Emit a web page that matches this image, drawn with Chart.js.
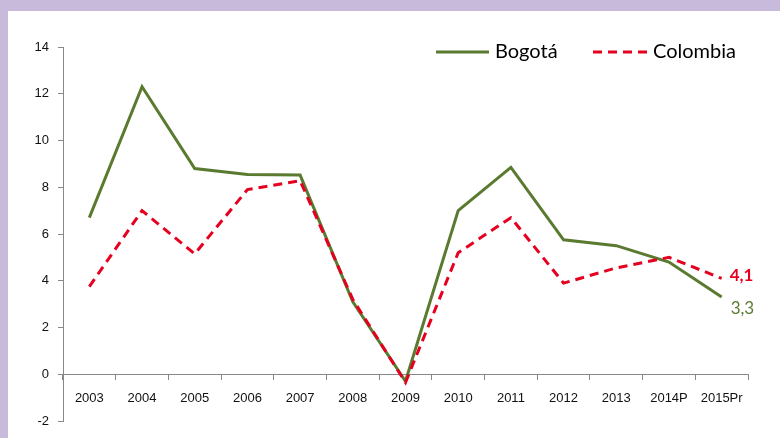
<!doctype html>
<html>
  <head>
    <title>Bogotá vs Colombia</title>
    <script src="https://cdn.jsdelivr.net/npm/chart.js@4.4.1/dist/chart.umd.min.js"></script>
    <style>
        * { margin: 0; padding: 0; box-sizing: border-box; }
        body { background: #c8badb; width: 780px; height: 438px; overflow: hidden; }
        #box { position: absolute; left: 8px; top: 11px; width: 772px; height: 427px; background: #fff; }
        canvas { display: block; }
    </style>
  </head>
  <body>
    <div id="box"><canvas id="myCanvas" width="772" height="427"></canvas></div>
    <script>
    // data
    const years = ["2003","2004","2005","2006","2007","2008","2009","2010","2011","2012","2013","2014P","2015Pr"];
    const bogota = [6.7, 12.3, 8.8, 8.55, 8.52, 3.1, -0.3, 7.0, 8.85, 5.75, 5.5, 4.8, 3.3];
    const colombia = [3.75, 7.0, 5.15, 7.9, 8.28, 3.2, -0.35, 5.2, 6.7, 3.9, 4.55, 5.0, 4.1];
    const yTicks = { min: -2, max: 14, step: 2 };

    const green = '#5a7a2f';
    const red = '#e6001f';

    // legend + end labels
    const extras = {
      id: 'extras',
      afterDraw(chart) {
        const ctx = chart.ctx;
        const x = chart.scales.x, y = chart.scales.y;
        ctx.save();
        ctx.lineWidth = 3;
        ctx.font = '20px Lato';
        ctx.textBaseline = 'middle';
        ctx.fillStyle = '#000';
        // Bogotá
        ctx.strokeStyle = green;
        ctx.setLineDash([]);
        ctx.beginPath(); ctx.moveTo(428, 41); ctx.lineTo(481, 41); ctx.stroke();
        ctx.fillText('Bogotá', 487, 41);
        // Colombia
        ctx.strokeStyle = red;
        ctx.setLineDash([9, 6]);
        ctx.beginPath(); ctx.moveTo(585, 41); ctx.lineTo(640, 41); ctx.stroke();
        ctx.fillText('Colombia', 645, 41);
        // last value labels
        const last = years.length - 1;
        const px = x.getPixelForValue(last);
        ctx.font = 'bold 17px Lato';
        ctx.fillStyle = red;
        ctx.fillText(String(colombia[last]).replace('.', ','), px + 8, y.getPixelForValue(colombia[last]) - 3);
        ctx.font = '17px Lato';
        ctx.fillStyle = green;
        ctx.fillText(String(bogota[last]).replace('.', ','), px + 9, y.getPixelForValue(bogota[last]) + 11);
        ctx.restore();
      }
    };

    var ctx1 = document.getElementById("myCanvas").getContext('2d');
    var myChart = new Chart(ctx1, {
        type: 'line',
        data: {
            labels: years,
            datasets: [{
              label: 'Bogotá',
              data: bogota,
              borderColor: green,
              borderWidth: 3,
              pointRadius: 0,
              tension: 0,
              order: 2
            }, {
              label: 'Colombia',
              data: colombia,
              borderColor: red,
              borderWidth: 3,
              borderDash: [9, 6],
              pointRadius: 0,
              tension: 0,
              order: 1
            }]
        },
        options: {
          responsive: false,
          animation: false,
          layout: { padding: { left: 15, top: 36, right: 32, bottom: 17 } },
          plugins: { legend: { display: false }, tooltip: { enabled: false } },
          scales: {
            x: {
              position: { y: 0 },
              offset: true,
              grid: { offset: true, drawOnChartArea: false, tickLength: 5, color: '#888' },
              border: { color: '#888' },
              ticks: { color: '#111', padding: 11, maxRotation: 0, autoSkip: false,
                       font: { family: 'Liberation Sans', size: 13 } }
            },
            y: {
              min: yTicks.min, max: yTicks.max,
              afterFit(s) { s.width = 40; },
              grid: { drawOnChartArea: false, tickLength: 5, color: '#888' },
              border: { color: '#888' },
              ticks: { stepSize: yTicks.step, color: '#111', padding: 9,
                       font: { family: 'Liberation Sans', size: 13 } }
            }
          }
        },
        plugins: [extras]
    });
    </script>
  </body>
</html>
